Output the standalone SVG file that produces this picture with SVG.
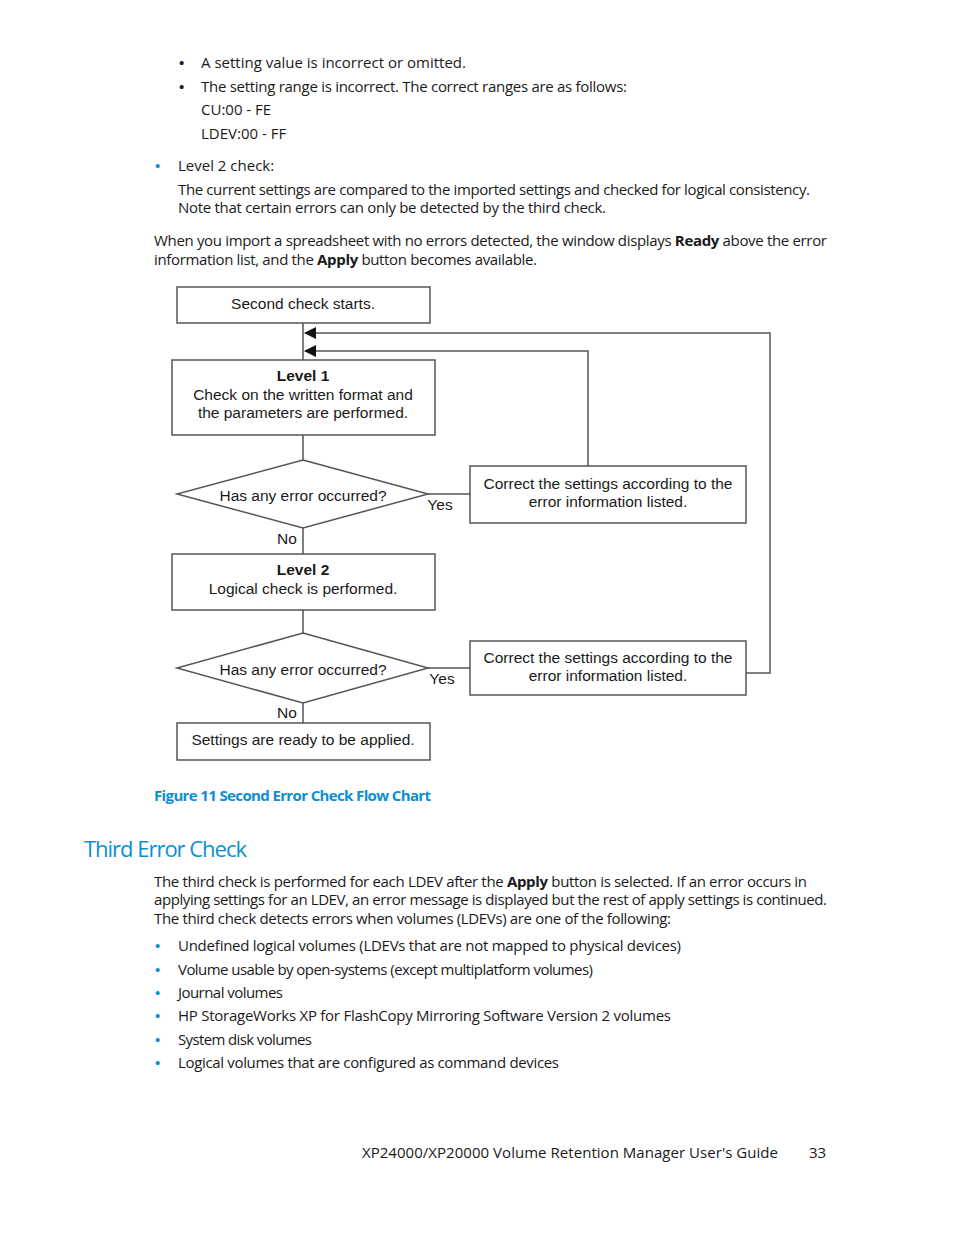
<svg xmlns="http://www.w3.org/2000/svg" width="954" height="1235" viewBox="0 0 954 1235">
<style>
.t{font-family:"Open Sans","Liberation Sans",sans-serif;font-size:15px;fill:#1a1a1a}
.b{font-weight:bold}
.blue{fill:#0b8fcf}
.dot{font-family:"Liberation Sans",sans-serif;font-size:15px;fill:#0b8fcf}
.dotk{font-family:"Liberation Sans",sans-serif;font-size:15px;fill:#1a1a1a}
.n{fill:#fff;stroke:#555;stroke-width:1.5}
.d{font-family:"Liberation Sans",Arial,sans-serif;font-size:15.5px;fill:#1a1a1a;text-anchor:middle}
.c{fill:none;stroke:#555;stroke-width:1.5}
</style>
<defs>
<marker id="ah" viewBox="0 0 12 12" refX="11" refY="6" markerWidth="12" markerHeight="12" markerUnits="userSpaceOnUse" orient="auto">
<path d="M0,0 L12,6 L0,12 Z" fill="#111"/>
</marker>
</defs>
<rect width="954" height="1235" fill="#fff"/>

<!-- top text -->
<text class="dotk" x="179" y="68">•</text>
<text class="t" x="201" y="68">A setting value is incorrect or omitted.</text>
<text class="dotk" x="179" y="92">•</text>
<text class="t" x="201" y="92" textLength="426" lengthAdjust="spacing">The setting range is incorrect. The correct ranges are as follows:</text>
<text class="t" x="201" y="115">CU:00 - FE</text>
<text class="t" x="201" y="139">LDEV:00 - FF</text>
<text class="dot" x="155" y="171">•</text>
<text class="t" x="178" y="171">Level 2 check:</text>
<text class="t" x="178" y="195" textLength="632" lengthAdjust="spacing">The current settings are compared to the imported settings and checked for logical consistency.</text>
<text class="t" x="178" y="213" textLength="428" lengthAdjust="spacing">Note that certain errors can only be detected by the third check.</text>
<text class="t" x="154" y="246" textLength="673" lengthAdjust="spacing">When you import a spreadsheet with no errors detected, the window displays <tspan class="b">Ready</tspan> above the error</text>
<text class="t" x="154" y="265" textLength="383" lengthAdjust="spacing">information list, and the <tspan class="b">Apply</tspan> button becomes available.</text>

<!-- connectors -->
<g id="connectors">
<path class="c" d="M303,323 V360"/>
<path class="c" d="M303,435 V460"/>
<path class="c" d="M303,528 V554"/>
<path class="c" d="M303,610 V633"/>
<path class="c" d="M303,703 V723"/>
<path class="c" d="M428,494 H470"/>
<path class="c" d="M428,668 H470"/>
<path class="c" d="M588,466 V351 H305" marker-end="url(#ah)"/>
<path class="c" d="M746,673 H770 V333 H305" marker-end="url(#ah)"/>
<text class="d" x="440" y="510">Yes</text>
<text class="d" x="442" y="684">Yes</text>
<text class="d" x="287" y="544">No</text>
<text class="d" x="287" y="718">No</text>
</g>

<g id="start">
<rect class="n" x="177" y="287" width="253" height="36"/>
<text class="d" x="303" y="309">Second check starts.</text>
</g>
<g id="level1">
<rect class="n" x="172" y="360" width="263" height="75"/>
<text class="d b" x="303" y="381">Level 1</text>
<text class="d" x="303" y="400">Check on the written format and</text>
<text class="d" x="303" y="418">the parameters are performed.</text>
</g>
<g id="decision1">
<polygon class="n" points="303,460 428,494 303,528 177,494"/>
<text class="d" x="303" y="501">Has any error occurred?</text>
</g>
<g id="correct1">
<rect class="n" x="470" y="466" width="276" height="57"/>
<text class="d" x="608" y="489">Correct the settings according to the</text>
<text class="d" x="608" y="507">error information listed.</text>
</g>
<g id="level2">
<rect class="n" x="172" y="554" width="263" height="56"/>
<text class="d b" x="303" y="575">Level 2</text>
<text class="d" x="303" y="594">Logical check is performed.</text>
</g>
<g id="decision2">
<polygon class="n" points="303,633 428,668 303,703 177,668"/>
<text class="d" x="303" y="675">Has any error occurred?</text>
</g>
<g id="correct2">
<rect class="n" x="470" y="641" width="276" height="54"/>
<text class="d" x="608" y="663">Correct the settings according to the</text>
<text class="d" x="608" y="681">error information listed.</text>
</g>
<g id="ready">
<rect class="n" x="177" y="723" width="253" height="37"/>
<text class="d" x="303" y="745">Settings are ready to be applied.</text>
</g>

<!-- captions -->
<text class="t b blue" x="154" y="801" textLength="277" lengthAdjust="spacing">Figure 11 Second Error Check Flow Chart</text>
<text class="t blue" x="84" y="857" style="font-size:22px" textLength="163" lengthAdjust="spacing">Third Error Check</text>

<text class="t" x="154" y="887" textLength="653" lengthAdjust="spacing">The third check is performed for each LDEV after the <tspan class="b">Apply</tspan> button is selected. If an error occurs in</text>
<text class="t" x="154" y="905" textLength="673" lengthAdjust="spacing">applying settings for an LDEV, an error message is displayed but the rest of apply settings is continued.</text>
<text class="t" x="154" y="924" textLength="517" lengthAdjust="spacing">The third check detects errors when volumes (LDEVs) are one of the following:</text>

<text class="dot" x="155" y="951">•</text>
<text class="t" x="178" y="951" textLength="503" lengthAdjust="spacing">Undefined logical volumes (LDEVs that are not mapped to physical devices)</text>
<text class="dot" x="155" y="975">•</text>
<text class="t" x="178" y="975" textLength="415" lengthAdjust="spacing">Volume usable by open-systems (except multiplatform volumes)</text>
<text class="dot" x="155" y="998">•</text>
<text class="t" x="178" y="998" textLength="105" lengthAdjust="spacing">Journal volumes</text>
<text class="dot" x="155" y="1021">•</text>
<text class="t" x="178" y="1021" textLength="493" lengthAdjust="spacing">HP StorageWorks XP for FlashCopy Mirroring Software Version 2 volumes</text>
<text class="dot" x="155" y="1045">•</text>
<text class="t" x="178" y="1045" textLength="134" lengthAdjust="spacing">System disk volumes</text>
<text class="dot" x="155" y="1068">•</text>
<text class="t" x="178" y="1068" textLength="381" lengthAdjust="spacing">Logical volumes that are configured as command devices</text>

<text class="t" x="362" y="1158" textLength="416" lengthAdjust="spacing">XP24000/XP20000 Volume Retention Manager User's Guide</text>
<text class="t" x="809" y="1158">33</text>
</svg>
